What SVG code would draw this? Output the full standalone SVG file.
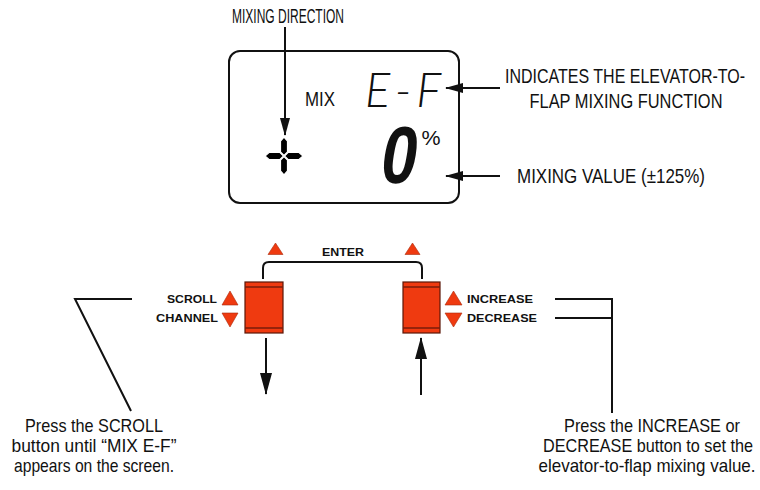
<svg xmlns="http://www.w3.org/2000/svg" width="760" height="490" viewBox="0 0 760 490">
<style>
.t{font-family:"Liberation Sans","Noto Sans",sans-serif;font-size:20px;fill:#111}
.n{font-family:"Liberation Sans","Noto Sans",sans-serif;font-size:18.5px;fill:#111}
.b{font-family:"Liberation Sans","Noto Sans",sans-serif;font-weight:bold;font-size:11px;fill:#111}
.ln{fill:none;stroke:#111;stroke-width:2}
.btn{fill:#EF3A10;stroke:#5a1608;stroke-width:1.2}
.stripe{stroke:#7a1c0a;stroke-width:1.6}
.tri{fill:#EF3A10;stroke:#a82a0c;stroke-width:0.6}
.seg{fill:#000;stroke:#fff;stroke-width:1.2}
</style>
<defs>
<marker id="ah" markerUnits="userSpaceOnUse" markerWidth="18" markerHeight="10" refX="17" refY="5" orient="auto">
<path d="M0,0 L18,5 L0,10 z" fill="#111"/>
</marker>
<marker id="ahb" markerUnits="userSpaceOnUse" markerWidth="22" markerHeight="12" refX="21" refY="6" orient="auto">
<path d="M0,0 L22,6 L0,12 z" fill="#111"/>
</marker>
</defs>
<rect width="760" height="490" fill="#fff"/>

<g id="lcd">
<rect x="229" y="51" width="230" height="152" rx="11" fill="#fff" stroke="#111" stroke-width="2"/>
<text class="t" transform="translate(320,106) scale(0.78,1)" text-anchor="middle" font-size="18.5" textLength="38.5" lengthAdjust="spacingAndGlyphs">MIX</text>
<text x="403" y="107" text-anchor="middle" font-family="Lato,'Liberation Sans',sans-serif" font-weight="300" font-style="italic" font-size="47" fill="#111" textLength="76" lengthAdjust="spacing">E-F</text>
<text transform="translate(396,183) skewX(-9)" x="0" y="0" text-anchor="middle" font-family="'Liberation Sans',sans-serif" font-weight="bold" font-size="81" fill="#111" textLength="36" lengthAdjust="spacingAndGlyphs">0</text>
<text class="t" transform="translate(431,145) scale(0.78,1)" text-anchor="middle" font-size="18.5" textLength="24.4" lengthAdjust="spacingAndGlyphs">%</text>
<g id="cross">
<polygon class="seg" points="265,156 269,152.5 280,152.5 283.5,156 280,159.5 269,159.5"/>
<polygon class="seg" points="303,156 299,152.5 288,152.5 284.5,156 288,159.5 299,159.5"/>
<polygon class="seg" points="284,137 280.5,141 280.5,152 284,155.5 287.5,152 287.5,141"/>
<polygon class="seg" points="284,175 280.5,171 280.5,160 284,156.5 287.5,160 287.5,171"/>
</g>
</g>

<g id="label-direction"><text class="t" transform="translate(288,23) scale(0.78,1)" text-anchor="middle" font-size="18.5" textLength="143.6" lengthAdjust="spacingAndGlyphs">MIXING DIRECTION</text></g>
<g id="label-function">
<text class="t" transform="translate(625,83) scale(0.78,1)" text-anchor="middle" textLength="307.7" lengthAdjust="spacingAndGlyphs">INDICATES THE ELEVATOR-TO-</text>
<text class="t" transform="translate(626,108) scale(0.78,1)" text-anchor="middle" textLength="247.4" lengthAdjust="spacingAndGlyphs">FLAP MIXING FUNCTION</text>
</g>
<g id="label-value"><text class="t" transform="translate(611,183) scale(0.78,1)" text-anchor="middle" textLength="241" lengthAdjust="spacingAndGlyphs">MIXING VALUE (±125%)</text></g>

<g id="button-scroll">
<rect class="btn" x="245" y="282" width="38" height="51"/>
<line class="stripe" x1="245" y1="287" x2="283" y2="287"/>
<line class="stripe" x1="245" y1="328" x2="283" y2="328"/>
<polygon class="tri" points="275.5,243 283,254.5 268,254.5"/>
<text class="b" x="217" y="303" text-anchor="end" textLength="50" lengthAdjust="spacingAndGlyphs">SCROLL</text>
<text class="b" x="218" y="322" text-anchor="end" textLength="62" lengthAdjust="spacingAndGlyphs">CHANNEL</text>
<polygon class="tri" points="230,291 238,305 222,305"/>
<polygon class="tri" points="222,313 238,313 230,327"/>
</g>

<g id="button-increase">
<rect class="btn" x="403" y="282" width="37" height="51"/>
<line class="stripe" x1="403" y1="287" x2="440" y2="287"/>
<line class="stripe" x1="403" y1="328" x2="440" y2="328"/>
<polygon class="tri" points="412.5,243 420,254.5 405,254.5"/>
<polygon class="tri" points="453.5,291 462,305 445,305"/>
<polygon class="tri" points="445,313 462,313 453.5,327"/>
<text class="b" x="467" y="303" textLength="66" lengthAdjust="spacingAndGlyphs">INCREASE</text>
<text class="b" x="467" y="322" textLength="70" lengthAdjust="spacingAndGlyphs">DECREASE</text>
</g>

<g id="label-enter"><text class="b" x="343" y="256" text-anchor="middle" textLength="42" lengthAdjust="spacingAndGlyphs">ENTER</text></g>

<g id="note-scroll">
<text class="n" transform="translate(94,432) scale(0.78,1)" text-anchor="middle" textLength="176.9" lengthAdjust="spacingAndGlyphs">Press the SCROLL</text>
<text class="n" transform="translate(94,452) scale(0.78,1)" text-anchor="middle" textLength="211.5" lengthAdjust="spacingAndGlyphs">button until “MIX E-F”</text>
<text class="n" transform="translate(94,472) scale(0.78,1)" text-anchor="middle" textLength="205.1" lengthAdjust="spacingAndGlyphs">appears on the screen.</text>
</g>
<g id="note-increase">
<text class="n" transform="translate(652,432) scale(0.78,1)" text-anchor="middle" textLength="225.6" lengthAdjust="spacingAndGlyphs">Press the INCREASE or</text>
<text class="n" transform="translate(648,452) scale(0.78,1)" text-anchor="middle" textLength="269.2" lengthAdjust="spacingAndGlyphs">DECREASE button to set the</text>
<text class="n" transform="translate(647,472) scale(0.78,1)" text-anchor="middle" textLength="278.2" lengthAdjust="spacingAndGlyphs">elevator-to-flap mixing value.</text>
</g>

<g id="connectors">
<line class="ln" x1="285" y1="27" x2="285" y2="135" marker-end="url(#ah)"/>
<line class="ln" x1="500" y1="88" x2="446" y2="88" marker-end="url(#ah)"/>
<line class="ln" x1="500" y1="176" x2="446" y2="176" marker-end="url(#ah)"/>
<path class="ln" d="M263,279 V268 Q263,262 269,262 H416 Q422,262 422,268 V279"/>
<line class="ln" x1="266" y1="338" x2="266" y2="394" marker-end="url(#ahb)"/>
<line class="ln" x1="421" y1="395" x2="421" y2="338" marker-end="url(#ahb)"/>
<path class="ln" d="M132,299 H75 L131,411"/>
<path class="ln" d="M555,299 H612 M555,318 H612 M612,298 V413"/>
</g>
</svg>
